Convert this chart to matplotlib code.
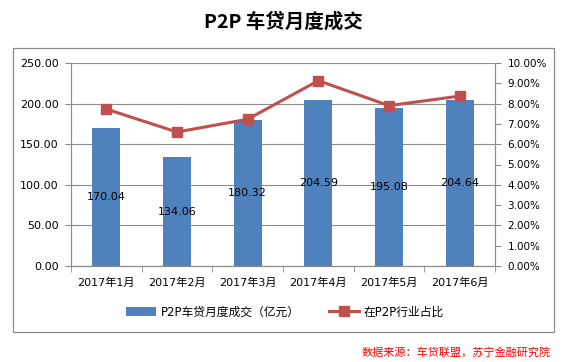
import matplotlib.pyplot as plt
import numpy as np
from matplotlib.patches import Rectangle

plt.rcParams['font.family'] = ['DejaVu Sans', 'Noto Sans CJK SC']

# data
months = ["2017年1月", "2017年2月", "2017年3月", "2017年4月", "2017年5月", "2017年6月"]
volume = [170.04, 134.06, 180.32, 204.59, 195.08, 204.64]
share = [7.73, 6.60, 7.23, 9.13, 7.90, 8.37]

bar_color = "#4F81BD"
line_color = "#C0504D"
grid_color = "#8C8C8C"

fig = plt.figure(figsize=(5.65, 3.62), dpi=100)
fig.patch.set_facecolor("white")

# outer chart frame
fig.patches.append(Rectangle((13 / 565, 1 - 332 / 362), (554 - 13) / 565, (332 - 48) / 362,
                             transform=fig.transFigure, fill=False, edgecolor="#8C8C8C", lw=0.9))

ax = fig.add_axes([71 / 565, 1 - 266 / 362, (495 - 71) / 565, (266 - 63) / 362])
x = np.arange(len(months))

bars = ax.bar(x, volume, width=0.4, color=bar_color, zorder=2, label="P2P车贷月度成交（亿元）")
for xi, v in zip(x, volume):
    ax.text(xi, v / 2, f"{v:.2f}", ha="center", va="center", fontsize=8, color="black", zorder=5)

ax.set_xlim(-0.5, len(months) - 0.5)
ax.set_ylim(0, 250)
ax.set_yticks(np.arange(0, 251, 50))
ax.set_yticklabels([f"{v:.2f}" for v in np.arange(0, 251, 50)], fontsize=8)
ax.yaxis.grid(True, color=grid_color, lw=0.8, zorder=0)
ax.set_xticks(x)
ax.set_xticklabels(months, fontsize=8)
ax.set_xticks(np.arange(-0.5, len(months), 1), minor=True)
ax.tick_params(axis="x", which="major", length=0, pad=8)
ax.tick_params(axis="x", which="minor", length=4, color=grid_color, direction="out")
ax.tick_params(axis="y", length=4, color=grid_color, direction="out", pad=5)
ax.spines["top"].set_visible(False)
for s in ["left", "bottom", "right"]:
    ax.spines[s].set_color(grid_color)

ax2 = ax.twinx()
line, = ax2.plot(x, share, color=line_color, lw=2.2, marker="s", markersize=6.5,
                 zorder=4, label="在P2P行业占比")
ax2.set_ylim(0, 10)
ax2.set_yticks(np.arange(0, 11, 1))
ax2.set_yticklabels([f"{v:.2f}%" for v in np.arange(0, 11, 1)], fontsize=7.5)
ax2.tick_params(axis="y", length=4, color=grid_color, direction="out", pad=5)
ax2.spines["top"].set_visible(False)
for s in ["left", "bottom", "right"]:
    ax2.spines[s].set_color(grid_color)

fig.text(283 / 565, 1 - 22 / 362, "P2P 车贷月度成交", ha="center", va="center",
         fontsize=14, fontweight="bold", family=["Noto Sans CJK SC", "DejaVu Sans"])

fig.legend([bars, line], ["P2P车贷月度成交（亿元）", "在P2P行业占比"], loc="center",
           bbox_to_anchor=(285 / 565, 1 - 312 / 362), ncol=2, frameon=False,
           fontsize=8.5, handlelength=2.5, columnspacing=2.5, handletextpad=0.4)

fig.text(551 / 565, 1 - 352 / 362, "数据来源：车贷联盟，苏宁金融研究院", ha="right", va="center",
         fontsize=8, color="#FF0000", style="italic", family=["Noto Sans CJK SC", "DejaVu Sans"])

fig.savefig("out.png", dpi=100)
